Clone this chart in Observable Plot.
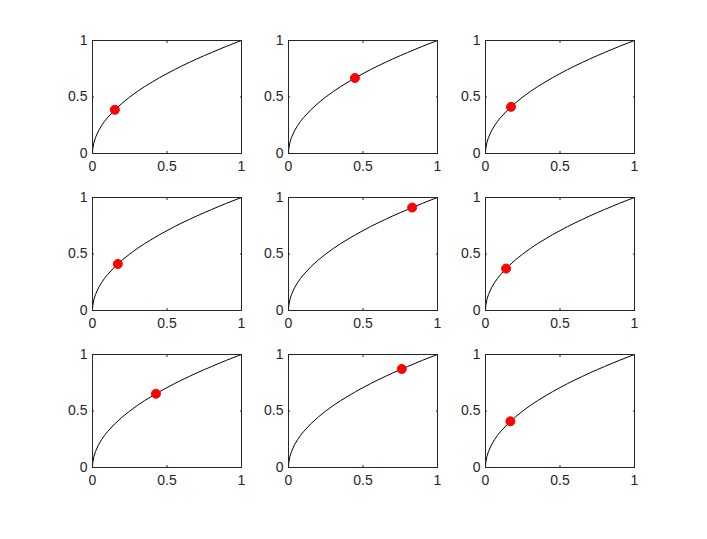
<!DOCTYPE html>
<html>
<head>
<meta charset="utf-8">
<script src="https://cdn.jsdelivr.net/npm/d3@7"></script>
<script src="https://cdn.jsdelivr.net/npm/@observablehq/plot@0.6"></script>
<style>
  html, body { margin: 0; padding: 0; background: #fff; }
  #fig { position: relative; width: 707px; height: 539px; background: #fff; overflow: hidden; }
  #fig > div, #fig > svg { position: absolute; }
</style>
</head>
<body>
<div id="fig"></div>
<script>
// Curve (same curve in every panel)
const curveX = [0, 0.002, 0.01, 0.02, 0.04, 0.06, 0.08, 0.1, 0.15, 0.2, 0.25, 0.3, 0.35, 0.4, 0.45, 0.5, 0.55, 0.6, 0.65, 0.7, 0.75, 0.8, 0.85, 0.9, 0.95, 1];
const curveY = [0, 0.045, 0.1, 0.141, 0.2, 0.245, 0.283, 0.316, 0.387, 0.447, 0.5, 0.548, 0.592, 0.632, 0.671, 0.707, 0.742, 0.775, 0.806, 0.837, 0.866, 0.894, 0.922, 0.949, 0.975, 1];

// Red point in each of the 9 panels (row by row)
const pointX = [0.15, 0.446, 0.171, 0.17, 0.83, 0.138, 0.426, 0.76, 0.167];
const pointY = [0.387, 0.668, 0.413, 0.412, 0.911, 0.371, 0.653, 0.872, 0.409];

const tickValues = [0, 0.5, 1];
const tickLabels = ["0", "0.5", "1"];

const curve = curveX.map((x, i) => ({x, y: curveY[i]}));

const colLeft = [92, 288, 485];
const rowTop = [40, 197, 354];
const plotW = 149, plotH = 113;
const mL = 32, mR = 12, mT = 10, mB = 30;
const fmt = d => tickLabels[tickValues.indexOf(d)];

const fig = document.getElementById("fig");
for (let i = 0; i < 9; i++) {
  const r = Math.floor(i / 3), c = i % 3;
  const pt = [{x: pointX[i], y: pointY[i]}];
  const svg = Plot.plot({
    width: plotW + mL + mR,
    height: plotH + mT + mB,
    marginLeft: mL, marginRight: mR, marginTop: mT, marginBottom: mB,
    style: {fontFamily: "'Liberation Sans', Arial, sans-serif", fontSize: "14px", color: "#262626", background: "transparent", overflow: "visible"},
    x: {domain: [0, 1]},
    y: {domain: [0, 1]},
    marks: [
      Plot.axisX({ticks: tickValues, tickSize: 0, tickPadding: 8, tickFormat: fmt, label: null, fill: "#262626"}),
      Plot.axisY({ticks: tickValues, tickSize: 0, tickPadding: 5, tickFormat: fmt, label: null, fill: "#262626"}),
      Plot.axisX({ticks: tickValues, anchor: "bottom", tickSize: -2, tickFormat: () => "", label: null, stroke: "#262626"}),
      Plot.axisX({ticks: tickValues, anchor: "top", tickSize: -2, tickFormat: () => "", label: null, stroke: "#262626"}),
      Plot.axisY({ticks: tickValues, anchor: "left", tickSize: -2, tickFormat: () => "", label: null, stroke: "#262626"}),
      Plot.axisY({ticks: tickValues, anchor: "right", tickSize: -2, tickFormat: () => "", label: null, stroke: "#262626"}),
      Plot.line(curve, {x: "x", y: "y", stroke: "black", strokeWidth: 1}),
      Plot.dot(pt, {x: "x", y: "y", r: 4.5, fill: "#ff0000", stroke: "#ff0000", strokeWidth: 1}),
      Plot.frame({stroke: "#262626", strokeWidth: 1})
    ]
  });
  svg.style.left = (colLeft[c] - mL) + "px";
  svg.style.top = (rowTop[r] - mT) + "px";
  fig.appendChild(svg);
}
</script>
</body>
</html>
